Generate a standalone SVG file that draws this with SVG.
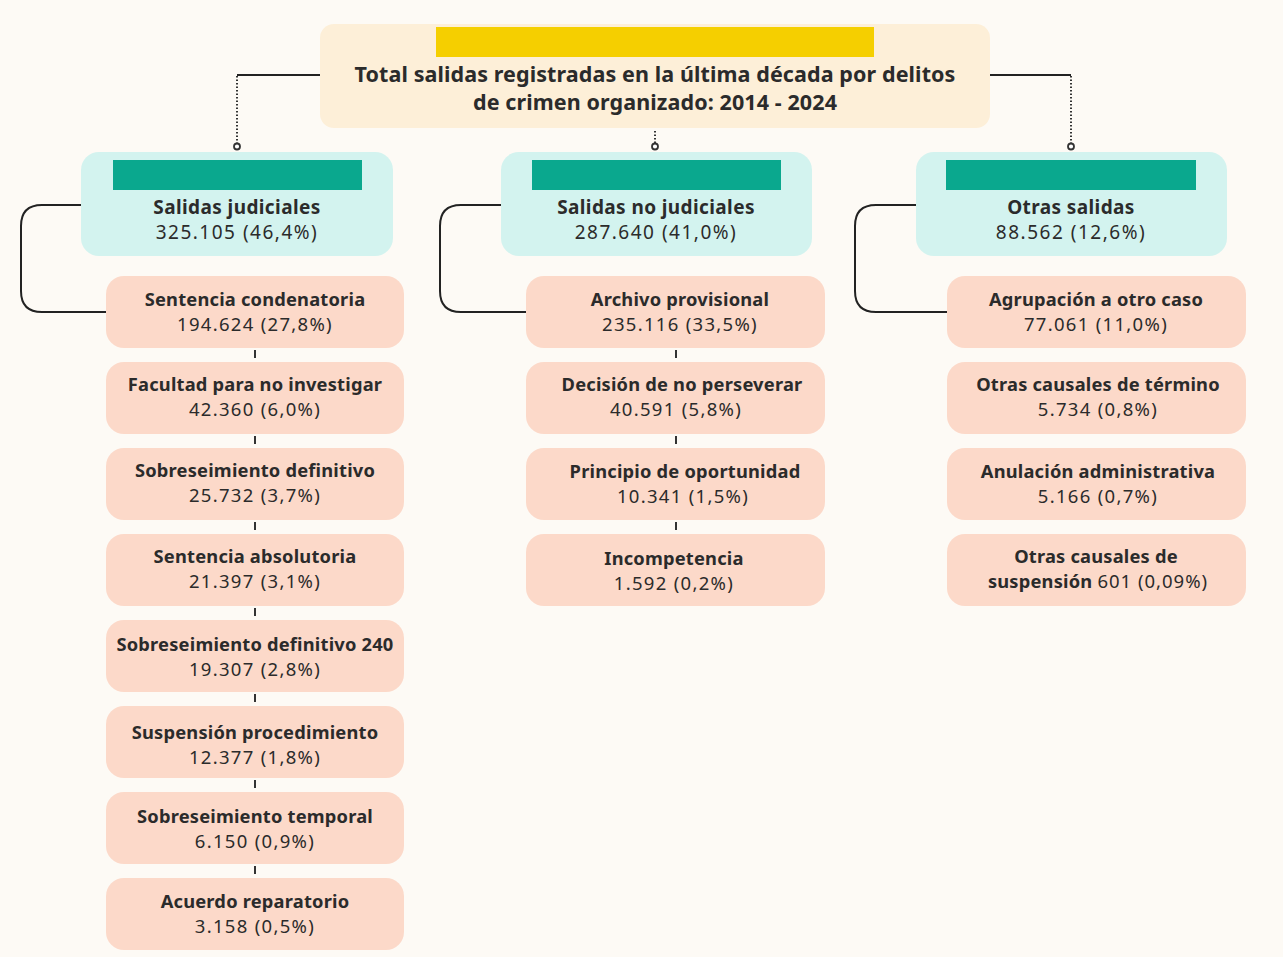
<svg xmlns="http://www.w3.org/2000/svg" width="1283" height="957" viewBox="0 0 1283 957">
<style>
text{font-family:"Noto Sans","Open Sans","Liberation Sans",sans-serif;fill:#2b2b2b;text-anchor:middle}
.t{font-size:21.5px;font-weight:bold;letter-spacing:0.1px}
.b{font-size:18.3px;font-weight:bold;letter-spacing:0.2px}
.h{font-size:19px;font-weight:bold;letter-spacing:0.4px}
.n{font-size:18.5px;letter-spacing:1.3px}
.m{font-size:19px;letter-spacing:1.5px}
.l2{fill:#d3f3ef}
.bar{fill:#0aa88e}
.l3{fill:#fcd9c9}
.c{fill:none;stroke:#222;stroke-width:2}
.d{fill:none;stroke:#333;stroke-width:2;stroke-dasharray:1.5 2}
.o{fill:#fff;stroke:#333;stroke-width:1.8}
.tk{stroke:#333;stroke-width:2}
</style>
<rect width="1283" height="957" fill="#fdfaf5"/>
<g id="connectors">
<path class="c" d="M320 75H237"/>
<path class="d" d="M237 76V143"/>
<circle class="o" cx="237" cy="146.5" r="3"/>
<path class="d" d="M655 131V143"/>
<circle class="o" cx="655" cy="146.5" r="3"/>
<path class="c" d="M990 75H1071"/>
<path class="d" d="M1071 76V143"/>
<circle class="o" cx="1071" cy="146.5" r="3"/>
<path class="c" d="M81 205H42Q21 205 21 226V291Q21 312 42 312H106"/>
<path class="c" d="M501 205H461Q440 205 440 226V291Q440 312 461 312H526"/>
<path class="c" d="M916 205H876Q855 205 855 226V291Q855 312 876 312H947"/>
<path class="tk" d="M255 350V358M255 436V444M255 522V530M255 608V616M255 694V702M255 780V788M255 866V874"/>
<path class="tk" d="M676 350V358M676 436V444M676 522V530"/>
</g>
<g id="root">
<rect x="320" y="24" width="670" height="104" rx="14" fill="#fdefd8"/>
<rect x="436" y="27" width="438" height="30" fill="#f5cf00"/>
<text class="t" x="655" y="82">Total salidas registradas en la última década por delitos</text>
<text class="t" x="655" y="110">de crimen organizado: 2014 - 2024</text>
</g>
<g id="judiciales">
<rect class="l2" x="81" y="152" width="312" height="104" rx="18"/>
<rect class="bar" x="113" y="160" width="249" height="30"/>
<text class="h" x="237" y="214">Salidas judiciales</text>
<text class="m" x="237" y="239">325.105 (46,4%)</text>
</g>
<g id="nojudiciales">
<rect class="l2" x="501" y="152" width="311" height="104" rx="18"/>
<rect class="bar" x="532" y="160" width="249" height="30"/>
<text class="h" x="656" y="214">Salidas no judiciales</text>
<text class="m" x="656" y="239">287.640 (41,0%)</text>
</g>
<g id="otras">
<rect class="l2" x="916" y="152" width="311" height="104" rx="18"/>
<rect class="bar" x="946" y="160" width="250" height="30"/>
<text class="h" x="1071" y="214">Otras salidas</text>
<text class="m" x="1071" y="239">88.562 (12,6%)</text>
</g>
<g id="j1"><rect class="l3" x="106" y="276" width="298" height="72" rx="18"/><text class="b" x="255" y="306">Sentencia condenatoria</text><text class="n" x="255" y="331">194.624 (27,8%)</text></g>
<g id="j2"><rect class="l3" x="106" y="362" width="298" height="72" rx="18"/><text class="b" x="255" y="391">Facultad para no investigar</text><text class="n" x="255" y="416">42.360 (6,0%)</text></g>
<g id="j3"><rect class="l3" x="106" y="448" width="298" height="72" rx="18"/><text class="b" x="255" y="477">Sobreseimiento definitivo</text><text class="n" x="255" y="502">25.732 (3,7%)</text></g>
<g id="j4"><rect class="l3" x="106" y="534" width="298" height="72" rx="18"/><text class="b" x="255" y="563">Sentencia absolutoria</text><text class="n" x="255" y="588">21.397 (3,1%)</text></g>
<g id="j5"><rect class="l3" x="106" y="620" width="298" height="72" rx="18"/><text class="b" x="255" y="651">Sobreseimiento definitivo 240</text><text class="n" x="255" y="676">19.307 (2,8%)</text></g>
<g id="j6"><rect class="l3" x="106" y="706" width="298" height="72" rx="18"/><text class="b" x="255" y="739">Suspensión procedimiento</text><text class="n" x="255" y="764">12.377 (1,8%)</text></g>
<g id="j7"><rect class="l3" x="106" y="792" width="298" height="72" rx="18"/><text class="b" x="255" y="823">Sobreseimiento temporal</text><text class="n" x="255" y="848">6.150 (0,9%)</text></g>
<g id="j8"><rect class="l3" x="106" y="878" width="298" height="72" rx="18"/><text class="b" x="255" y="908">Acuerdo reparatorio</text><text class="n" x="255" y="933">3.158 (0,5%)</text></g>
<g id="n1"><rect class="l3" x="526" y="276" width="299" height="72" rx="18"/><text class="b" x="680" y="306">Archivo provisional</text><text class="n" x="680" y="331">235.116 (33,5%)</text></g>
<g id="n2"><rect class="l3" x="526" y="362" width="299" height="72" rx="18"/><text class="b" x="682" y="391">Decisión de no perseverar</text><text class="n" x="676" y="416">40.591 (5,8%)</text></g>
<g id="n3"><rect class="l3" x="526" y="448" width="299" height="72" rx="18"/><text class="b" x="685" y="478">Principio de oportunidad</text><text class="n" x="683" y="503">10.341 (1,5%)</text></g>
<g id="n4"><rect class="l3" x="526" y="534" width="299" height="72" rx="18"/><text class="b" x="674" y="565">Incompetencia</text><text class="n" x="674" y="590">1.592 (0,2%)</text></g>
<g id="o1"><rect class="l3" x="947" y="276" width="299" height="72" rx="18"/><text class="b" x="1096" y="306">Agrupación a otro caso</text><text class="n" x="1096" y="331">77.061 (11,0%)</text></g>
<g id="o2"><rect class="l3" x="947" y="362" width="299" height="72" rx="18"/><text class="b" x="1098" y="391">Otras causales de término</text><text class="n" x="1098" y="416">5.734 (0,8%)</text></g>
<g id="o3"><rect class="l3" x="947" y="448" width="299" height="72" rx="18"/><text class="b" x="1098" y="478">Anulación administrativa</text><text class="n" x="1098" y="503">5.166 (0,7%)</text></g>
<g id="o4"><rect class="l3" x="947" y="534" width="299" height="72" rx="18"/><text class="b" x="1096" y="563">Otras causales de</text><text class="b" x="1098" y="588">suspensión <tspan class="n" font-weight="normal" style="letter-spacing:1px">601 (0,09%)</tspan></text></g>
</svg>
